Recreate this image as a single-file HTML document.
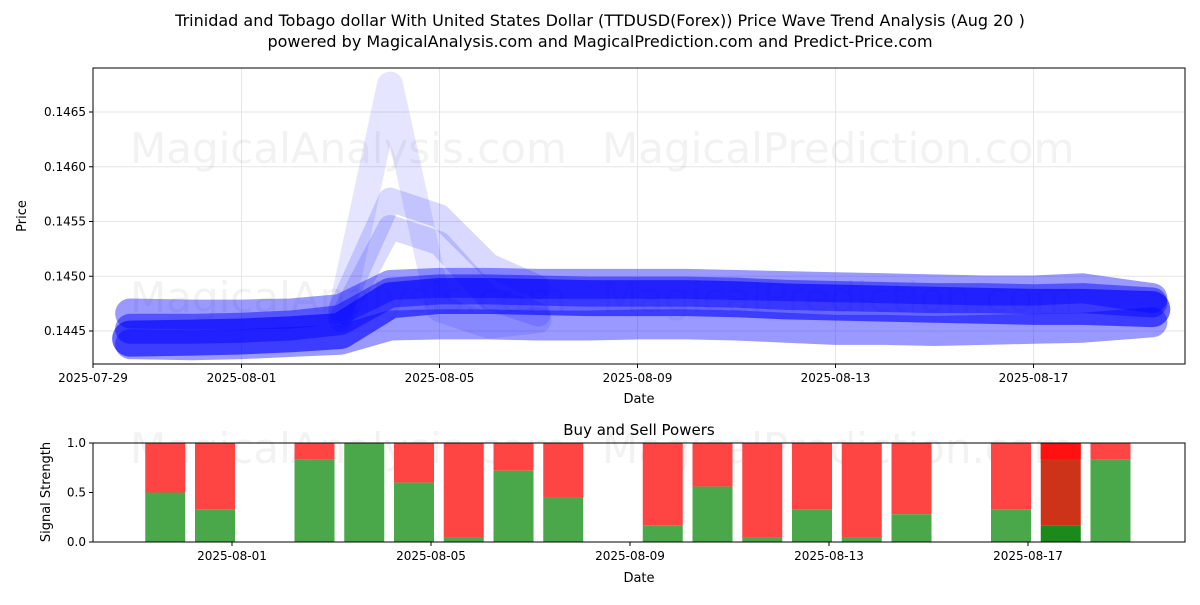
<!DOCTYPE html>
<html><head><meta charset="utf-8"><style>
body{margin:0;background:#fff;}
svg text{font-family:"DejaVu Sans","Liberation Sans",sans-serif;}
</style></head><body>
<svg id="c" width="1200" height="600" xmlns="http://www.w3.org/2000/svg">
<text x="600" y="26" font-size="16" text-anchor="middle">Trinidad and Tobago dollar With United States Dollar (TTDUSD(Forex)) Price Wave Trend Analysis (Aug 20 )</text>
<text x="600" y="47" font-size="16" text-anchor="middle">powered by MagicalAnalysis.com and MagicalPrediction.com and Predict-Price.com</text>
<g id="topg"></g>
<g id="botg"></g>
</svg>
<script>
const topTicks=[0.1445,0.1450,0.1455,0.1460,0.1465];
const topDateLabels=["2025-07-29","2025-08-01","2025-08-05","2025-08-09","2025-08-13","2025-08-17"];
const topDateDays=[0,3,7,11,15,19];
const waveDays=[0.75,2,3,4,5,6,7,8,9,10,11,12,13,14,15,16,17,18,19,20,21.4];
const waveMain=[0.14443,0.14444,0.14445,0.14447,0.14450,0.14478,0.14482,0.14482,0.14481,0.14480,0.14480,0.14480,0.14479,0.14477,0.14476,0.14475,0.14474,0.14473,0.14472,0.14472,0.14470];
const waveUpper=[0.14466,0.14465,0.14465,0.14466,0.14470,0.14492,0.14494,0.14494,0.14493,0.14493,0.14493,0.14493,0.14492,0.14491,0.14490,0.14489,0.14488,0.14487,0.14487,0.14489,0.14480];
const waveLower=[0.14438,0.14437,0.14438,0.14440,0.14442,0.14455,0.14456,0.14456,0.14455,0.14455,0.14456,0.14456,0.14455,0.14453,0.14451,0.14451,0.14450,0.14451,0.14452,0.14453,0.14458];
const waveMid=[0.14452,0.14452,0.14453,0.14455,0.14460,0.14485,0.14488,0.14488,0.14487,0.14486,0.14486,0.14486,0.14485,0.14483,0.14482,0.14481,0.14480,0.14480,0.14479,0.14480,0.14476];
const spikeDays=[5,6,7,8,9];
const spike1=[0.14465,0.14675,0.14470,0.14455,0.14460];
const spike2=[0.14470,0.14570,0.14555,0.14510,0.14490];
const spike3=[0.14460,0.14545,0.14530,0.14480,0.14465];
const barDays=[2,3,5,6,7,8,9,10,12,13,14,15,16,17,19,20,21];
const buyVals=[0.5,0.33,0.83,1.0,0.6,0.05,0.72,0.45,0.17,0.56,0.05,0.33,0.05,0.28,0.33,0.17,0.83];
const botDateLabels=["2025-08-01","2025-08-05","2025-08-09","2025-08-13","2025-08-17"];
const botDateDays=[3,7,11,15,19];
const botTicks=[0.0,0.5,1.0];

const NS="http://www.w3.org/2000/svg";
function mk(tag,attrs,parent){const e=document.createElementNS(NS,tag);for(const k in attrs)e.setAttribute(k,attrs[k]);parent.appendChild(e);return e;}
const T={l:93,r:1185,t:68,b:364};
const xT=d=>93+d*49.5;
const yT=v=>331-(v-0.1445)*109500;
const B={l:93,r:1185,t:443,b:542};
const xB=d=>82.75+d*49.75;
const yB=v=>542-v*99;
const gTop=document.getElementById('topg'),gBot=document.getElementById('botg');

topTicks.forEach(v=>{const l=mk('line',{x1:T.l,x2:T.r,y1:yT(v),y2:yT(v),stroke:'#e6e6e6'},gTop);});
topDateDays.forEach(d=>{const l=mk('line',{x1:xT(d),x2:xT(d),y1:T.t,y2:T.b,stroke:'#e6e6e6'},gTop);});
[[130,163,'MagicalAnalysis.com'],[602,163,'MagicalPrediction.com'],[130,312,'MagicalAnalysis.com'],[602,312,'MagicalPrediction.com']].forEach(w=>{const t=mk('text',{x:w[0],y:w[1],'font-size':42,fill:'#000','fill-opacity':0.05},gTop);t.textContent=w[2];});
const clip=mk('clipPath',{id:'cp'},gTop);mk('rect',{x:T.l,y:T.t,width:T.r-T.l,height:T.b-T.t},clip);
const gW=mk('g',{'clip-path':'url(#cp)'},gTop);
function poly(days,vals,w,op,name){const pts=days.map((d,i)=>xT(d)+','+yT(vals[i])).join(' ');const p=mk('polyline',{points:pts,fill:'none',stroke:'#0000ff','stroke-opacity':op,'stroke-width':w,'stroke-linejoin':'round','stroke-linecap':'round'},gW);}
poly(spikeDays,spike1,26,0.1,'wave-spike-1');
poly(spikeDays,spike2,24,0.15,'wave-spike-2');
poly(spikeDays,spike3,24,0.15,'wave-spike-3');
poly(waveDays,waveUpper,30,0.4,'wave-upper');
poly(waveDays,waveLower,30,0.4,'wave-lower');
poly(waveDays,waveMid,30,0.45,'wave-mid');
poly(waveDays,waveMain,36,0.6,'wave-main');
mk('rect',{x:T.l,y:T.t,width:T.r-T.l,height:T.b-T.t,fill:'none',stroke:'#000'},gTop);
topTicks.forEach(v=>{mk('line',{x1:T.l-4,x2:T.l,y1:yT(v),y2:yT(v),stroke:'#000'},gTop);const t=mk('text',{x:T.l-7,y:yT(v)+4,'font-size':12,'text-anchor':'end'},gTop);t.textContent=v.toFixed(4);});
topDateDays.forEach((d,i)=>{mk('line',{x1:xT(d),x2:xT(d),y1:T.b,y2:T.b+4,stroke:'#000'},gTop);const t=mk('text',{x:xT(d),y:T.b+18,'font-size':12,'text-anchor':'middle'},gTop);t.textContent=topDateLabels[i];});
let tx=mk('text',{x:639,y:403,'font-size':13,'text-anchor':'middle'},gTop);tx.textContent='Date';
tx=mk('text',{x:26,y:216,'font-size':13,'text-anchor':'middle',transform:'rotate(-90 26 216)'},gTop);tx.textContent='Price';

[[130,463,'MagicalAnalysis.com'],[602,463,'MagicalPrediction.com']].forEach(w=>{const t=mk('text',{x:w[0],y:w[1],'font-size':42,fill:'#000','fill-opacity':0.05},gBot);t.textContent=w[2];});
barDays.forEach((d,i)=>{const x=xB(d)-17-20,v=buyVals[i];const dark=d===20;
const r=mk('rect',{x:x,y:yB(1),width:40,height:yB(v)-yB(1),fill:dark?'#cc3318':'#ff4444'},gBot);
const gr=mk('rect',{x:x,y:yB(v),width:40,height:yB(0)-yB(v),fill:dark?'#1a8a1a':'#4aa84a'},gBot);
if(dark){const r2=mk('rect',{x:x,y:yB(1),width:40,height:16,fill:'#ff1111'},gBot);}});
mk('rect',{x:B.l,y:B.t,width:B.r-B.l,height:B.b-B.t,fill:'none',stroke:'#000'},gBot);
botTicks.forEach(v=>{mk('line',{x1:B.l-4,x2:B.l,y1:yB(v),y2:yB(v),stroke:'#000'},gBot);const t=mk('text',{x:B.l-7,y:yB(v)+4,'font-size':12,'text-anchor':'end'},gBot);t.textContent=v.toFixed(1);});
botDateDays.forEach((d,i)=>{mk('line',{x1:xB(d),x2:xB(d),y1:B.b,y2:B.b+4,stroke:'#000'},gBot);const t=mk('text',{x:xB(d),y:B.b+18,'font-size':12,'text-anchor':'middle'},gBot);t.textContent=botDateLabels[i];});
tx=mk('text',{x:639,y:582,'font-size':13,'text-anchor':'middle'},gBot);tx.textContent='Date';
tx=mk('text',{x:639,y:435,'font-size':15,'text-anchor':'middle'},gBot);tx.textContent='Buy and Sell Powers';
tx=mk('text',{x:50,y:492,'font-size':13,'text-anchor':'middle',transform:'rotate(-90 50 492)'},gBot);tx.textContent='Signal Strength';
</script>
</body></html>
